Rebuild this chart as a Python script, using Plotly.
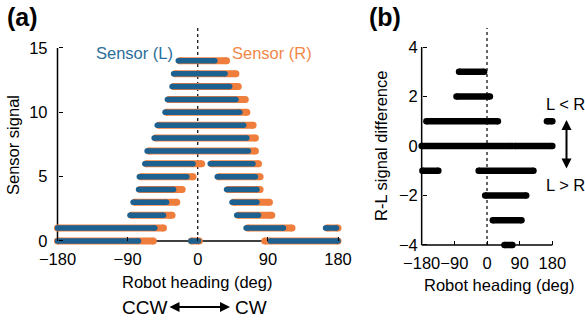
import plotly.graph_objects as go

W, H = 585, 320
FONT = "Liberation Sans, Arial, sans-serif"
BLUE = "#1d6190"
ORANGE = "#ef7e3d"
BLUE_TXT = "#2b6e99"
ORANGE_TXT = "#f2874a"
FS = 16.5

# ---------------- Panel (a): sensor signal bands ----------------
# Sensor (L) bands: signal level, heading start, heading end (deg)
L_level = [14, 13, 12, 11, 10, 9, 8, 7, 6, 6, 5, 5, 4, 4, 3, 3, 2, 2, 1, 1, 1, 0, 0, 0]
L_start = [-25, -31, -33, -39, -42, -52, -56, -65, -68, 16, -75, 25, -76, 37, -83, 44, -87, 50, -180, 62, 164, -180, -9, 93]
L_end   = [22, 35, 41, 49, 54, 59, 63, 65, -6, 71, -14, 74, -31, 76, -40, 76, -44, 78, -55, 110, 178, -76, 1, 180]

# Sensor (R) bands
R_level = [14, 13, 12, 11, 10, 9, 8, 7, 6, 6, 5, 5, 4, 4, 3, 3, 2, 2, 1, 1, 1, 0, 0, 0]
R_start = [-23, -29, -31, -37, -40, -50, -54, -63, -66, 18, -73, 27, -74, 39, -81, 46, -85, 52, -180, 64, 166, -180, -8, 86]
R_end   = [37, 49, 52, 61, 63, 71, 74, 74, 5, 78, -6, 80, -20, 80, -27, 92, -33, 95, -44, 121, 180, -57, 2, 180]

# isolated readings
L_out_x = [-44, -46, -4, -68, -62, 88]
L_out_y = [11, 10, 1, 0, 0, 0]
R_out_x = [29, 33, 58, 67, 78, 81, 84, 82, 86, 86, 86, 96, 100, 100, 105]
R_out_y = [14, 14, 11, 9, 7, 7, 7, 6, 6, 5, 4, 3, 3, 2, 2]

# ---------------- Panel (b): R-L difference bands ----------------
D_level = [3, 2, 1, 1, 0, 0, -1, -1, -2, -3, -4]
D_start = [-77, -84, -167, 165, -180, 76, -178, -23, -5, 16, 48]
D_end   = [-8, 8, 30, 180, 70, 180, -134, 128, 108, 95, 70]
D_out_x = [17, 41, 51, -112, 80]
D_out_y = [2, 1, 1, -1, -4]

xticks = [-180, -90, 0, 90, 180]
ticks_a = [0, 5, 10, 15]
ticks_b = [-4, -2, 0, 2, 4]


def seg_xy(level, start, end):
    xs, ys = [], []
    for lv, s, e in zip(level, start, end):
        xs += [s, e, None]
        ys += [lv, lv, None]
    return xs, ys


fig = go.Figure()

def band(level, start, end, color, width, xa, ya):
    xs, ys = seg_xy(level, start, end)
    fig.add_trace(go.Scatter(x=xs, y=ys, mode="lines+markers", xaxis=xa, yaxis=ya,
                             line=dict(color=color, width=width),
                             marker=dict(color=color, size=width, symbol="circle"),
                             cliponaxis=False, hoverinfo="skip", showlegend=False))

def outliers(x, y, color, xa, ya):
    fig.add_trace(go.Scatter(x=x, y=y, mode="markers", xaxis=xa, yaxis=ya,
                             marker=dict(color="rgba(0,0,0,0)", size=6, symbol="circle-open",
                                         line=dict(color=color, width=1.3)),
                             cliponaxis=False, hoverinfo="skip", showlegend=False))

band(R_level, R_start, R_end, ORANGE, 7, "x", "y")
outliers(R_out_x, R_out_y, ORANGE, "x", "y")
band(L_level, L_start, L_end, BLUE, 5.5, "x", "y")
outliers(L_out_x, L_out_y, BLUE, "x", "y")

band(D_level, D_start, D_end, "black", 6.5, "x2", "y2")
outliers(D_out_x, D_out_y, "#333333", "x2", "y2")

def px(v):
    return v / W

def py(v):
    return 1 - v / H

tickfont = dict(family=FONT, size=FS, color="black")
common = dict(showgrid=False, zeroline=False, showline=False, ticks="inside",
              ticklen=4, tickwidth=1.3, tickcolor="black", tickfont=tickfont,
              fixedrange=True, tickangle=0, automargin=False)

fig.update_layout(
    width=W, height=H, margin=dict(l=0, r=0, t=0, b=0, autoexpand=False),
    paper_bgcolor="white", plot_bgcolor="white",
    xaxis=dict(domain=[px(53.6), px(341.9)], range=[-185, 185], anchor="free",
               position=py(241), tickvals=xticks, ticklabelstandoff=6, **common),
    yaxis=dict(domain=[py(247.4), py(27.4)], range=[-0.5, 16.6], anchor="free",
               position=px(57.5), tickvals=ticks_a, ticklabelstandoff=10, **common),
    xaxis2=dict(domain=[px(417.3), px(556.7)], range=[-192, 192], anchor="free",
                position=py(245), tickvals=xticks, ticklabelstandoff=6, **common),
    yaxis2=dict(domain=[py(252.4), py(26)], range=[-4.3, 4.85], anchor="free",
                position=px(421.7), tickvals=ticks_b, ticklabelstandoff=4, **common),
)

line_k = dict(color="black", width=1.5)
shapes = [
    dict(type="line", xref="x", yref="y", x0=-180, x1=-180, y0=0, y1=15, line=line_k, layer="below"),
    dict(type="line", xref="x", yref="y", x0=-180, x1=180, y0=0, y1=0, line=line_k, layer="below"),
    dict(type="line", xref="x", yref="y", x0=0, x1=0, y0=0, y1=16.55,
         line=dict(color="black", width=1.2, dash="dot"), layer="below"),
    dict(type="line", xref="x2", yref="y2", x0=-180, x1=-180, y0=-4, y1=4, line=line_k, layer="below"),
    dict(type="line", xref="x2", yref="y2", x0=-180, x1=180, y0=-4, y1=-4, line=line_k, layer="below"),
    dict(type="line", xref="x2", yref="y2", x0=0, x1=0, y0=-4, y1=4.77,
         line=dict(color="black", width=1.2, dash="dot"), layer="below"),
]
fig.update_layout(shapes=shapes)

def txt(text, x, y, size=FS, color="black", bold=False, angle=0):
    fig.add_annotation(text=f"<b>{text}</b>" if bold else text, x=px(x), y=py(y),
                       xref="paper", yref="paper", showarrow=False, textangle=angle,
                       xanchor="center", yanchor="middle",
                       font=dict(family=FONT, size=size, color=color))

txt("(a)", 22, 17, size=25, bold=True)
txt("(b)", 385, 17, size=25, bold=True)
txt("Sensor (L)", 134, 53, color=BLUE_TXT)
txt("Sensor (R)", 272, 53, color=ORANGE_TXT)
txt("Sensor signal", 13, 145, angle=-90)
txt("Robot heading (deg)", 197, 282)
txt("CCW", 144, 307, size=19)
txt("CW", 251, 307, size=19)
txt("R-L signal difference", 381, 146, angle=-90)
txt("Robot heading (deg)", 499, 285)
txt("L &lt; R", 565, 104)
txt("L &gt; R", 565, 185)

def arrow(x_head, y_head, x_tail, y_tail):
    fig.add_annotation(text="", x=px(x_head), y=py(y_head), xref="paper", yref="paper",
                       ax=x_tail - x_head, ay=y_tail - y_head, axref="pixel", ayref="pixel",
                       showarrow=True, arrowhead=2, arrowsize=1, arrowwidth=2,
                       arrowside="end+start", arrowcolor="black", standoff=0, startstandoff=0)

arrow(230, 307, 168, 307)
arrow(566.5, 120, 566.5, 170)

fig.write_html("out.html")
